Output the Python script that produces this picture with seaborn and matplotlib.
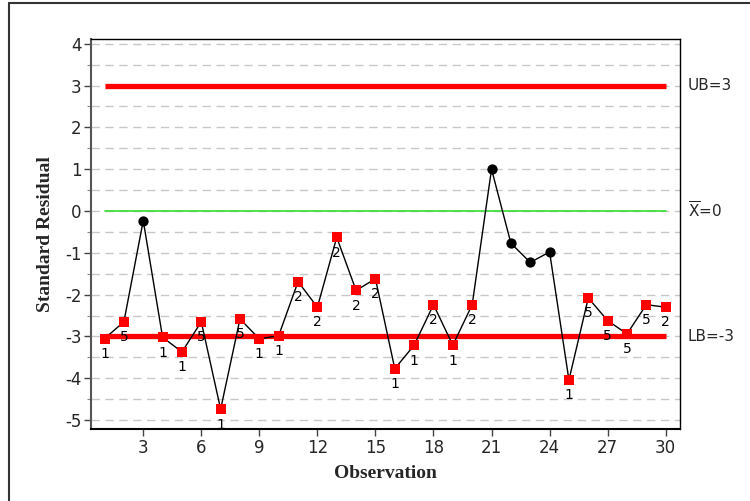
import matplotlib
matplotlib.use("Agg")
import matplotlib.pyplot as plt
from matplotlib.lines import Line2D
from matplotlib.ticker import MultipleLocator
import numpy as np
import pandas as pd
import seaborn as sns

# Standardized residuals per observation
observation = list(range(1, 31))
residual = [-3.05, -2.65, -0.23, -3.02, -3.37, -2.65, -4.74, -2.58, -3.06, -2.98,
            -1.69, -2.30, -0.63, -1.90, -1.62, -3.77, -3.21, -2.24, -3.21, -2.24,
            1.00, -0.77, -1.23, -0.98, -4.04, -2.08, -2.62, -2.94, -2.24, -2.30]
# Violated test rule for each out-of-control point ("" = in control)
rule = ["1", "5", "", "1", "1", "5", "1", "5", "1", "1",
        "2", "2", "2", "2", "2", "1", "1", "2", "1", "2",
        "", "", "", "", "1", "5", "5", "5", "5", "2"]

center = 0
ub = 3
lb = -3
y_ticks = [4, 3, 2, 1, 0, -1, -2, -3, -4, -5]
x_ticks = [3, 6, 9, 12, 15, 18, 21, 24, 27, 30]

df = pd.DataFrame({"obs": observation, "res": residual, "rule": rule})
df["status"] = np.where(df["rule"] == "", "ok", "flag")

sns.set_theme(style="white")
plt.rcParams["font.family"] = ["DejaVu Sans"]
plt.rcParams["mathtext.fontset"] = "dejavusans"
plt.rcParams["axes.unicode_minus"] = False

fig = plt.figure(figsize=(7.5, 5.01), dpi=100)
ax = fig.add_axes([91 / 750, 1 - 429.3 / 501, (680 - 91) / 750, (429.3 - 38.7) / 501])

# dashed horizontal grid every half unit
for g in np.arange(-5, 4.01, 0.5):
    ax.axhline(g, color="#c8c8c8", lw=1, ls=(0, (6, 4)), zorder=0)

# limits
ax.plot([1, 30], [ub, ub], color="#ff0000", lw=3.8, zorder=1, solid_capstyle="butt")
ax.plot([1, 30], [lb, lb], color="#ff0000", lw=3.8, zorder=1, solid_capstyle="butt")
ax.plot([1, 30], [center, center], color="#33dd33", lw=1.2, zorder=1)

sns.lineplot(data=df, x="obs", y="res", color="black", lw=1, ax=ax, zorder=2,
             legend=False)
sns.scatterplot(data=df[df["status"] == "flag"], x="obs", y="res", color="#ff0000",
                marker="s", s=45, linewidth=0, ax=ax, zorder=3, legend=False)
sns.scatterplot(data=df[df["status"] == "ok"], x="obs", y="res", color="black",
                marker="o", s=55, linewidth=0, ax=ax, zorder=3, legend=False)

for x, y, r in zip(df["obs"], df["res"], df["rule"]):
    if r:
        ax.annotate(r, (x, y), xytext=(0, -11), textcoords="offset points",
                    ha="center", va="center", fontsize=10, color="black", zorder=4)

ax.text(30.74 + 0.4, ub, "UB=3", va="center", ha="left", fontsize=11)
ax.text(30.74 + 0.4, center, r"$\overline{\mathrm{X}}$=0", va="center", ha="left", fontsize=11)
ax.text(30.74 + 0.4, lb, "LB=-3", va="center", ha="left", fontsize=11)

ax.set_xlim(0.30, 30.74)
ax.set_ylim(-5.22, 4.12)
ax.set_xticks(x_ticks)
ax.set_yticks(y_ticks)
ax.yaxis.set_minor_locator(MultipleLocator(0.5))
ax.tick_params(axis="both", which="major", direction="out", length=5, width=1,
               color="#444444", labelsize=12, pad=2, left=True, bottom=True)
ax.tick_params(axis="y", which="minor", direction="out", length=3, width=0.8,
               color="#888888", left=True)
for s in ax.spines.values():
    s.set_color("black")
    s.set_linewidth(1)
ax.spines["left"].set_color("#555555")
ax.spines["left"].set_linewidth(1.5)
ax.spines["bottom"].set_linewidth(1.5)

ax.set_xlabel("Observation", family="Liberation Serif", fontweight="bold", fontsize=14,
              labelpad=6)
ax.set_ylabel("Standard Residual", family="Liberation Serif", fontweight="bold",
              fontsize=14, labelpad=8)

# outer frame
fig.add_artist(Line2D([8.5 / 750, 8.5 / 750], [0, 1 - 2.5 / 501], color="#333333", lw=1.5))
fig.add_artist(Line2D([8.5 / 750, 1], [1 - 2.5 / 501, 1 - 2.5 / 501], color="#333333", lw=1.5))

fig.savefig("out.png", dpi=100)
